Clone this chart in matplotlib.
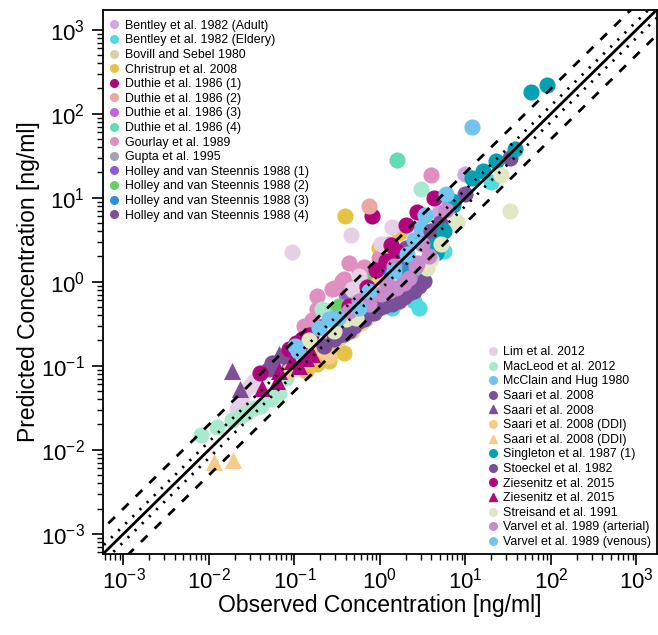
import numpy as np
import matplotlib
matplotlib.use("Agg")
import matplotlib.pyplot as plt
from matplotlib.lines import Line2D
from matplotlib.ticker import FixedLocator, LogLocator, NullFormatter

plt.rcParams['font.family'] = ['Liberation Sans', 'DejaVu Sans']
plt.rcParams['mathtext.fontset'] = 'custom'
plt.rcParams['mathtext.rm'] = 'Liberation Sans'
plt.rcParams['mathtext.it'] = 'Liberation Sans'

# observed / predicted concentrations [ng/ml]
bentley_adult_obs = [9.8, 4.9, 1.27]
bentley_adult_pred = [19.3, 6.6, 2.83]
bentley_eld_obs = [20, 2.85, 2.85, 1.38, 1.9, 5.6, 2.5]
bentley_eld_pred = [15.5, 0.49, 1.25, 0.49, 1.03, 2.34, 0.59]
bovill_obs = [0.43, 0.74]
bovill_pred = [0.34, 0.59]
christrup_obs = [0.39, 0.137, 0.184, 0.268, 1.67, 0.97, 0.57, 0.254, 0.38]
christrup_pred = [6.1, 0.087, 0.106, 0.143, 3.8, 2.5, 1.03, 0.115, 0.143]
duthie1_obs = [0.81, 2.7]
duthie1_pred = [6.1, 6.8]
duthie2_obs = [0.74]
duthie2_pred = [8.0]
duthie3_obs = [0.40]
duthie3_pred = [0.72]
duthie4_obs = [1.58, 0.254]
duthie4_pred = [28, 0.45]
gourlay_obs = [4.0, 0.57, 0.38, 0.275, 0.184, 0.184, 0.161, 0.29, 0.36, 0.65,
               0.97, 0.13, 0.43]
gourlay_pred = [18.8, 1.35, 1.09, 0.83, 0.68, 0.48, 0.35, 0.85, 1.03, 1.51,
                1.93, 0.30, 1.68]
gupta_obs = [0.9]
gupta_pred = [0.8]
holley1_obs = [0.43, 0.6]
holley1_pred = [0.63, 0.9]
holley2_obs = [0.69, 0.33, 0.5]
holley2_pred = [1.03, 0.52, 0.75]
holley3_obs = [1.38, 1.9, 1.1]
holley3_pred = [1.35, 1.55, 1.2]
holley4_obs = [33, 9.8, 5.0, 3.5, 2.0, 1.67, 1.46, 2.85]
holley4_pred = [30, 11.2, 5.0, 3.3, 2.5, 2.15, 0.68, 0.9]

lim_obs = [0.024, 0.026, 0.030, 0.021, 0.094, 0.46, 1.38, 0.47, 1.03, 0.57,
           0.034, 0.066]
lim_pred = [0.038, 0.050, 0.058, 0.031, 2.28, 3.6, 4.5, 0.83, 2.83, 1.18,
            0.066, 0.115]
macleod_obs = [0.0081, 0.0125, 0.0187, 0.0239, 0.0273, 0.034, 0.041, 0.053,
               0.066, 0.080, 0.21, 0.69, 3.0]
macleod_pred = [0.0148, 0.0188, 0.0228, 0.0254, 0.0276, 0.0316, 0.0334, 0.0405,
                0.0477, 0.072, 0.48, 0.65, 12.8]
mcclain_obs = [11.8, 5.7, 3.4, 3.0]
mcclain_pred = [70, 10.6, 6.3, 4.4]
saari_obs = [0.051, 0.055, 0.10, 0.076, 0.148, 3.9]
saari_pred = [0.092, 0.109, 0.15, 0.13, 0.17, 4.0]
saari_tri_obs = [0.0187, 0.0232, 0.055, 0.066, 0.087]
saari_tri_pred = [0.087, 0.053, 0.109, 0.139, 0.12]
saari_ddi_obs = [0.087, 0.194, 0.234, 0.33, 0.47, 0.60, 0.69, 0.97, 1.38,
                 1.54, 0.13, 0.17, 0.38, 0.254, 0.85, 1.11]
saari_ddi_pred = [0.087, 0.164, 0.183, 0.215, 0.26, 0.32, 0.36, 1.03, 1.88,
                  2.15, 0.115, 0.143, 0.24, 0.13, 0.59, 0.78]
saari_ddi_tri_obs = [0.0115, 0.0193]
saari_ddi_tri_pred = [0.0071, 0.0076]
singleton_obs = [91, 59, 38, 23, 16, 12, 7.1, 6.9, 4.5, 4.5, 3.7, 2.2, 1.5,
                 3.26, 5.6]
singleton_pred = [221, 183, 38, 27, 21, 17, 8.3, 9.2, 2.8, 2.2, 2.5, 1.18, 1.47,
                  1.55, 4.0]
stoeckel_obs = [2.36, 2.18, 1.67, 1.27, 0.97, 1.38, 1.67, 0.57, 0.43, 0.33, 0.74,
                0.222, 0.29, 0.38, 0.50, 0.65, 0.85, 1.11, 1.9, 2.5, 3.26]
stoeckel_pred = [0.85, 0.74, 0.72, 0.59, 0.49, 0.55, 0.59, 0.34, 0.26, 0.23, 0.43,
                 0.173, 0.21, 0.24, 0.30, 0.36, 0.43, 0.52, 0.66, 0.78, 1.03]
ziesenitz_obs = [0.039, 0.087, 0.105, 0.123, 0.157, 0.275, 0.70, 0.90, 1.17,
                 1.34, 2.0, 4.3, 0.149, 0.22, 0.43, 1.54]
ziesenitz_pred = [0.083, 0.159, 0.188, 0.21, 0.234, 0.275, 0.87, 1.39, 1.78,
                  2.76, 4.8, 10, 0.23, 0.30, 0.52, 2.34]
ziesenitz_tri_obs = [0.042, 0.063, 0.066, 0.094, 0.137, 0.161, 0.114]
ziesenitz_tri_pred = [0.055, 0.066, 0.087, 0.115, 0.124, 0.139, 0.10]
streisand_obs = [26, 33, 7.9, 5.2, 3.9, 3.5, 0.40, 0.52, 3.7, 0.97, 0.29,
                 2.85, 0.148]
streisand_pred = [18.8, 7.0, 5.2, 2.83, 1.88, 1.47, 0.36, 0.37, 1.78, 0.78, 0.26,
                  1.68, 0.20]
varvel_art_obs = [5.9, 3.1, 2.7, 1.03, 0.74, 1.54, 2.18, 2.63, 0.57, 3.7, 1.2,
                  1.27, 1.9, 0.43, 1.46]
varvel_art_pred = [7.2, 2.83, 1.68, 0.72, 0.55, 0.85, 1.12, 1.55, 0.59, 2.04, 0.95,
                   0.78, 0.97, 0.45, 1.55]
varvel_ven_obs = [2.07, 0.57, 0.194, 0.32, 5.9, 1.46, 0.102, 0.254, 0.74, 2.5,
                  0.11]
varvel_ven_pred = [2.15, 0.49, 0.28, 0.37, 11.2, 1.35, 0.173, 0.36, 0.78, 3.1,
                   0.15]

decades = [1e-3, 1e-2, 1e-1, 1e0, 1e1, 1e2, 1e3]

series_top = [
    ("Bentley et al. 1982 (Adult)", bentley_adult_obs, bentley_adult_pred, "#CFA6E3", "o"),
    ("Bentley et al. 1982 (Eldery)", bentley_eld_obs, bentley_eld_pred, "#4FDBE0", "o"),
    ("Bovill and Sebel 1980", bovill_obs, bovill_pred, "#DDCFA5", "o"),
    ("Christrup et al. 2008", christrup_obs, christrup_pred, "#E6C247", "o"),
    ("Duthie et al. 1986 (1)", duthie1_obs, duthie1_pred, "#B0057A", "o"),
    ("Duthie et al. 1986 (2)", duthie2_obs, duthie2_pred, "#E9A8A0", "o"),
    ("Duthie et al. 1986 (3)", duthie3_obs, duthie3_pred, "#BC65DE", "o"),
    ("Duthie et al. 1986 (4)", duthie4_obs, duthie4_pred, "#62DDB2", "o"),
    ("Gourlay et al. 1989", gourlay_obs, gourlay_pred, "#DF8FC0", "o"),
    ("Gupta et al. 1995", gupta_obs, gupta_pred, "#A79FB3", "o"),
    ("Holley and van Steennis 1988 (1)", holley1_obs, holley1_pred, "#8E5CDB", "o"),
    ("Holley and van Steennis 1988 (2)", holley2_obs, holley2_pred, "#66D068", "o"),
    ("Holley and van Steennis 1988 (3)", holley3_obs, holley3_pred, "#2F8FDA", "o"),
    ("Holley and van Steennis 1988 (4)", holley4_obs, holley4_pred, "#7D5098", "o"),
]
series_bottom = [
    ("Lim et al. 2012", lim_obs, lim_pred, "#E6D0E6", "o"),
    ("MacLeod et al. 2012", macleod_obs, macleod_pred, "#A9EACF", "o"),
    ("McClain and Hug 1980", mcclain_obs, mcclain_pred, "#72C3EE", "o"),
    ("Saari et al. 2008", saari_obs, saari_pred, "#7E4F97", "o"),
    ("Saari et al. 2008", saari_tri_obs, saari_tri_pred, "#7E4F97", "^"),
    ("Saari et al. 2008 (DDI)", saari_ddi_obs, saari_ddi_pred, "#F5CD88", "o"),
    ("Saari et al. 2008 (DDI)", saari_ddi_tri_obs, saari_ddi_tri_pred, "#F5CD88", "^"),
    ("Singleton et al. 1987 (1)", singleton_obs, singleton_pred, "#04A1B5", "o"),
    ("Stoeckel et al. 1982", stoeckel_obs, stoeckel_pred, "#7A4F99", "o"),
    ("Ziesenitz et al. 2015", ziesenitz_obs, ziesenitz_pred, "#B2067F", "o"),
    ("Ziesenitz et al. 2015", ziesenitz_tri_obs, ziesenitz_tri_pred, "#B2067F", "^"),
    ("Streisand et al. 1991", streisand_obs, streisand_pred, "#E1E6C3", "o"),
    ("Varvel et al. 1989 (arterial)", varvel_art_obs, varvel_art_pred, "#C98BCB", "o"),
    ("Varvel et al. 1989 (venous)", varvel_ven_obs, varvel_ven_pred, "#74C5EF", "o"),
]

fig = plt.figure(figsize=(6.58, 6.35), dpi=100)
ax = fig.add_axes([0.1565, 0.1276, 0.842, 0.8574])

for label, obs, pred, col, mk in series_top + series_bottom:
    ax.scatter(obs, pred, s=135 if mk == "o" else 150, c=col, marker=mk,
               linewidths=0, zorder=2)

# identity, 1.25-fold and 2-fold lines
ref = np.array([1e-5, 1e5])
ax.plot(ref, ref, color="black", lw=2.0, zorder=3)
for f in [1.25, 1 / 1.25]:
    ax.plot(ref, ref * f, color="black", lw=2.0, dashes=(0.8, 2.8), zorder=3)
for f in [2, 0.5]:
    ax.plot(ref, ref * f, color="black", lw=2.0, dashes=(3.3, 3.6), zorder=3)

lo, hi = 10 ** -3.24, 10 ** 3.24
ax.set_xscale("log")
ax.set_yscale("log")
ax.set_xlim(lo, hi)
ax.set_ylim(lo, hi)

for a in [ax.xaxis, ax.yaxis]:
    a.set_major_locator(FixedLocator(decades))
    a.set_minor_locator(LogLocator(base=10, subs=np.arange(2, 10), numticks=20))
    a.set_minor_formatter(NullFormatter())
ax.tick_params(which="major", length=8, width=1.2, labelsize=16)
ax.tick_params(axis="x", which="major", pad=2)
ax.tick_params(axis="y", which="major", pad=5)
ax.tick_params(which="minor", length=4, width=1.0)
for sp in ax.spines.values():
    sp.set_linewidth(1.3)

ax.set_xlabel("Observed Concentration [ng/ml]", fontsize=16.5)
ax.set_ylabel("Predicted Concentration [ng/ml]", fontsize=16.5)
ax.xaxis.set_label_coords(0.5, -0.073)
ax.yaxis.set_label_coords(-0.114, 0.5)


def make_handles(series):
    hs = []
    for label, obs, pred, col, mk in series:
        hs.append(Line2D([], [], linestyle="none", marker=mk, color=col,
                         markersize=5.5 if mk == "o" else 6, label=label))
    return hs


leg1 = ax.legend(handles=make_handles(series_top), loc="upper left",
                 bbox_to_anchor=(-0.006, 0.997), frameon=False, fontsize=8.9,
                 handlelength=1.0, handletextpad=0.35, labelspacing=0.21,
                 borderaxespad=0.3)
ax.add_artist(leg1)
ax.legend(handles=make_handles(series_bottom), loc="lower right",
          bbox_to_anchor=(1.005, -0.005), frameon=False, fontsize=8.9,
          handlelength=1.0, handletextpad=0.35, labelspacing=0.21,
          borderaxespad=0.3)

fig.savefig("out.png", dpi=100)
